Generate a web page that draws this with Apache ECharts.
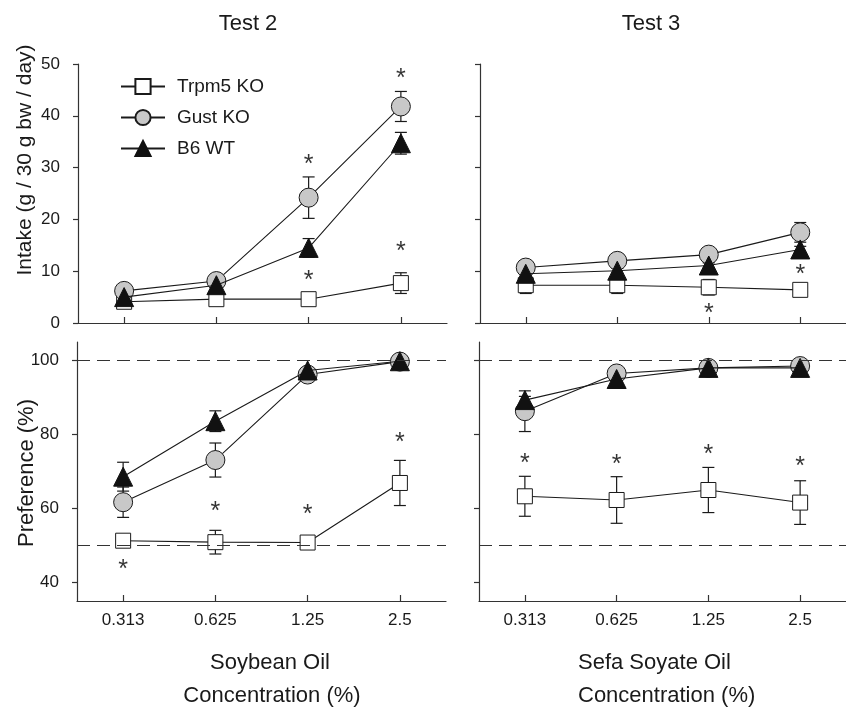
<!DOCTYPE html>
<html>
<head>
<meta charset="utf-8">
<script src="https://cdn.jsdelivr.net/npm/echarts@6/dist/echarts.min.js"></script>
<style>
html,body{margin:0;padding:0;background:#fff;}
#chart{width:846px;height:710px;}
</style>
</head>
<body>
<div id="chart"></div>
<script>
// ---------- data ----------
const categories = ['0.313', '0.625', '1.25', '2.5'];
const seriesNames = ['Trpm5 KO', 'Gust KO', 'B6 WT'];
const intakeTicks = [0, 10, 20, 30, 40, 50];
const prefTicks = [40, 60, 80, 100];
const prefRefLines = [100, 50];

// Test 2 (Soybean Oil) intake
const t2IntakeTrpm5 = [4.1, 4.6, 4.6, 7.7];
const t2IntakeTrpm5Err = [0.6, 0.5, 0.5, 2.0];
const t2IntakeGust = [6.2, 8.1, 24.2, 41.8];
const t2IntakeGustErr = [0.6, 0.5, 4.0, 2.9];
const t2IntakeB6 = [5.0, 7.3, 14.5, 34.7];
const t2IntakeB6Err = [0.6, 0.5, 1.8, 2.1];
const t2IntakeStars = [[2, 31.7], [2, 9.3], [3, 48.3], [3, 14.9]];

// Test 3 (Sefa Soyate Oil) intake
const t3IntakeTrpm5 = [7.3, 7.3, 6.9, 6.4];
const t3IntakeTrpm5Err = [1.6, 1.6, 1.5, 0.8];
const t3IntakeGust = [10.7, 12.0, 13.2, 17.5];
const t3IntakeGustErr = [0.6, 0.5, 0.6, 1.9];
const t3IntakeB6 = [9.5, 10.1, 11.1, 14.2];
const t3IntakeB6Err = [0.5, 0.5, 0.5, 0.6];
const t3IntakeStars = [[2, 2.9], [3, 10.4]];

// Test 2 preference
const t2PrefTrpm5 = [51.3, 50.9, 50.8, 66.9];
const t2PrefTrpm5Err = [1.0, 3.2, 0.8, 6.1];
const t2PrefGust = [61.7, 73.1, 96.2, 99.7];
const t2PrefGustErr = [4.1, 4.6, 0.8, 0.3];
const t2PrefB6 = [68.6, 83.6, 97.3, 99.8];
const t2PrefB6Err = [3.9, 2.8, 0.7, 0.2];
const t2PrefStars = [[0, 44.9], [1, 60.6], [2, 59.8], [3, 79.3]];

// Test 3 preference
const t3PrefTrpm5 = [63.3, 62.3, 65.0, 61.6];
const t3PrefTrpm5Err = [5.4, 6.3, 6.1, 5.9];
const t3PrefGust = [86.3, 96.5, 98.0, 98.5];
const t3PrefGustErr = [5.5, 1.0, 0.8, 0.5];
const t3PrefB6 = [89.3, 95.0, 98.0, 98.0];
const t3PrefB6Err = [1.0, 0.8, 0.5, 0.5];
const t3PrefStars = [[0, 73.7], [1, 73.3], [2, 76.1], [3, 72.8]];

// ---------- styling ----------
const INK = '#1a1a1a';
const AXIS = '#333';
const FONT = '"Liberation Sans", Arial, Helvetica, sans-serif';
const markerStyles = [
  { symbol: 'rect', symbolSize: 15, itemStyle: { color: '#ffffff', borderColor: INK, borderWidth: 1 } },
  { symbol: 'circle', symbolSize: 19, itemStyle: { color: '#c8c8c8', borderColor: INK, borderWidth: 1 } },
  { symbol: 'triangle', symbolSize: 19, itemStyle: { color: '#111111', borderColor: '#111111', borderWidth: 1 } }
];

const panels = [
  { grid: { left: 78, top: 64, width: 369, height: 259 }, kind: 'intake', showY: true, showX: false,
    vals: [t2IntakeTrpm5, t2IntakeGust, t2IntakeB6], errs: [t2IntakeTrpm5Err, t2IntakeGustErr, t2IntakeB6Err], stars: t2IntakeStars },
  { grid: { left: 480, top: 64, width: 369, height: 259 }, kind: 'intake', showY: false, showX: false,
    vals: [t3IntakeTrpm5, t3IntakeGust, t3IntakeB6], errs: [t3IntakeTrpm5Err, t3IntakeGustErr, t3IntakeB6Err], stars: t3IntakeStars },
  { grid: { left: 77, top: 342, width: 369, height: 259 }, kind: 'pref', showY: true, showX: true,
    vals: [t2PrefTrpm5, t2PrefGust, t2PrefB6], errs: [t2PrefTrpm5Err, t2PrefGustErr, t2PrefB6Err], stars: t2PrefStars },
  { grid: { left: 479, top: 342, width: 369, height: 259 }, kind: 'pref', showY: false, showX: true,
    vals: [t3PrefTrpm5, t3PrefGust, t3PrefB6], errs: [t3PrefTrpm5Err, t3PrefGustErr, t3PrefB6Err], stars: t3PrefStars }
];

const grids = [], xAxes = [], yAxes = [], series = [];

panels.forEach((p, i) => {
  grids.push(Object.assign({ containLabel: false }, p.grid));
  xAxes.push({
    type: 'category', gridIndex: i, data: categories, boundaryGap: true,
    axisLine: { lineStyle: { color: AXIS, width: 1.2 } },
    axisTick: { show: true, alignWithLabel: true, inside: true, length: 6, lineStyle: { color: AXIS, width: 1.2 } },
    axisLabel: { show: p.showX, color: INK, fontSize: 17, fontFamily: FONT, margin: 11 },
    splitLine: { show: false }
  });
  const yBase = {
    type: 'value', gridIndex: i,
    axisLine: { show: true, lineStyle: { color: AXIS, width: 1.2 } },
    splitLine: { show: false }
  };
  if (p.kind === 'intake') {
    yAxes.push(Object.assign(yBase, {
      min: intakeTicks[0], max: intakeTicks[intakeTicks.length - 1], interval: 10,
      axisTick: { show: true, length: 5, lineStyle: { color: AXIS, width: 1.2 } },
      axisLabel: { show: p.showY, color: INK, fontSize: 17, fontFamily: FONT, margin: 18 }
    }));
  } else {
    yAxes.push(Object.assign(yBase, {
      min: 35, max: 105,
      axisTick: { show: true, length: 5, customValues: prefTicks, lineStyle: { color: AXIS, width: 1.2 } },
      axisLabel: { show: p.showY, customValues: prefTicks, color: INK, fontSize: 17, fontFamily: FONT, margin: 18 }
    }));
  }

  // error bars
  const ebData = [];
  p.vals.forEach((arr, s) => {
    arr.forEach((v, k) => ebData.push([k, v - p.errs[s][k], v + p.errs[s][k]]));
  });
  series.push({
    type: 'custom', xAxisIndex: i, yAxisIndex: i, z: 1, silent: true,
    encode: { x: 0, y: [1, 2] },
    data: ebData,
    renderItem: function (params, api) {
      const x = api.value(0);
      const lo = api.coord([x, api.value(1)]);
      const hi = api.coord([x, api.value(2)]);
      const w = 6;
      const st = { stroke: INK, lineWidth: 1.2 };
      return {
        type: 'group', children: [
          { type: 'line', shape: { x1: lo[0], y1: lo[1], x2: hi[0], y2: hi[1] }, style: st },
          { type: 'line', shape: { x1: lo[0] - w, y1: lo[1], x2: lo[0] + w, y2: lo[1] }, style: st },
          { type: 'line', shape: { x1: hi[0] - w, y1: hi[1], x2: hi[0] + w, y2: hi[1] }, style: st }
        ]
      };
    }
  });

  // lines with markers
  p.vals.forEach((arr, s) => {
    const ser = {
      type: 'line', name: seriesNames[s], xAxisIndex: i, yAxisIndex: i,
      data: arr, z: 2 + s, showSymbol: true, animation: false,
      symbol: markerStyles[s].symbol, symbolSize: markerStyles[s].symbolSize,
      itemStyle: markerStyles[s].itemStyle,
      lineStyle: { color: INK, width: 1.1 },
      emphasis: { disabled: true }
    };
    if (p.kind === 'pref' && s === 0) {
      ser.markLine = {
        silent: true, symbol: 'none', label: { show: false },
        lineStyle: { color: AXIS, type: [13, 7], width: 1.2 },
        data: prefRefLines.map(v => ({ yAxis: v }))
      };
    }
    series.push(ser);
  });

  // significance asterisks
  series.push({
    type: 'scatter', xAxisIndex: i, yAxisIndex: i, z: 6, silent: true,
    data: p.stars, symbol: 'circle', symbolSize: 1,
    itemStyle: { color: 'rgba(0,0,0,0)' },
    label: { show: true, position: 'inside', formatter: '*', color: '#000', fontSize: 25, fontFamily: FONT, offset: [0, 6] }
  });
});

const txt = (x, y, text, size, extra) => Object.assign({
  type: 'text', x: x, y: y,
  style: { text: text, fill: INK, font: size + 'px ' + FONT, align: 'center', verticalAlign: 'middle' }
}, extra || {});

const option = {
  animation: false,
  backgroundColor: '#ffffff',
  textStyle: { fontFamily: FONT },
  grid: grids, xAxis: xAxes, yAxis: yAxes, series: series,
  legend: {
    data: seriesNames, orient: 'vertical', left: 120, top: 77, padding: 0,
    itemWidth: 44, itemHeight: 19, itemGap: 12, selectedMode: false,
    textStyle: { color: INK, fontSize: 19, fontFamily: FONT, padding: [0, 0, 0, 7] }
  },
  graphic: [
    txt(248, 24, 'Test 2', 22),
    txt(651, 24, 'Test 3', 22),
    txt(270, 663, 'Soybean Oil', 22),
    txt(272, 696, 'Concentration (%)', 22),
    { type: 'text', x: 578, y: 663, style: { text: 'Sefa Soyate Oil', fill: INK, font: '22px ' + FONT, align: 'left', verticalAlign: 'middle' } },
    { type: 'text', x: 578, y: 696, style: { text: 'Concentration (%)', fill: INK, font: '22px ' + FONT, align: 'left', verticalAlign: 'middle' } },
    txt(25, 160, 'Intake (g / 30 g bw / day)', 21, { rotation: Math.PI / 2 }),
    txt(27, 473, 'Preference (%)', 22, { rotation: Math.PI / 2 })
  ]
};

const chart = echarts.init(document.getElementById('chart'), null, { renderer: 'canvas' });
chart.setOption(option);
</script>
</body>
</html>
